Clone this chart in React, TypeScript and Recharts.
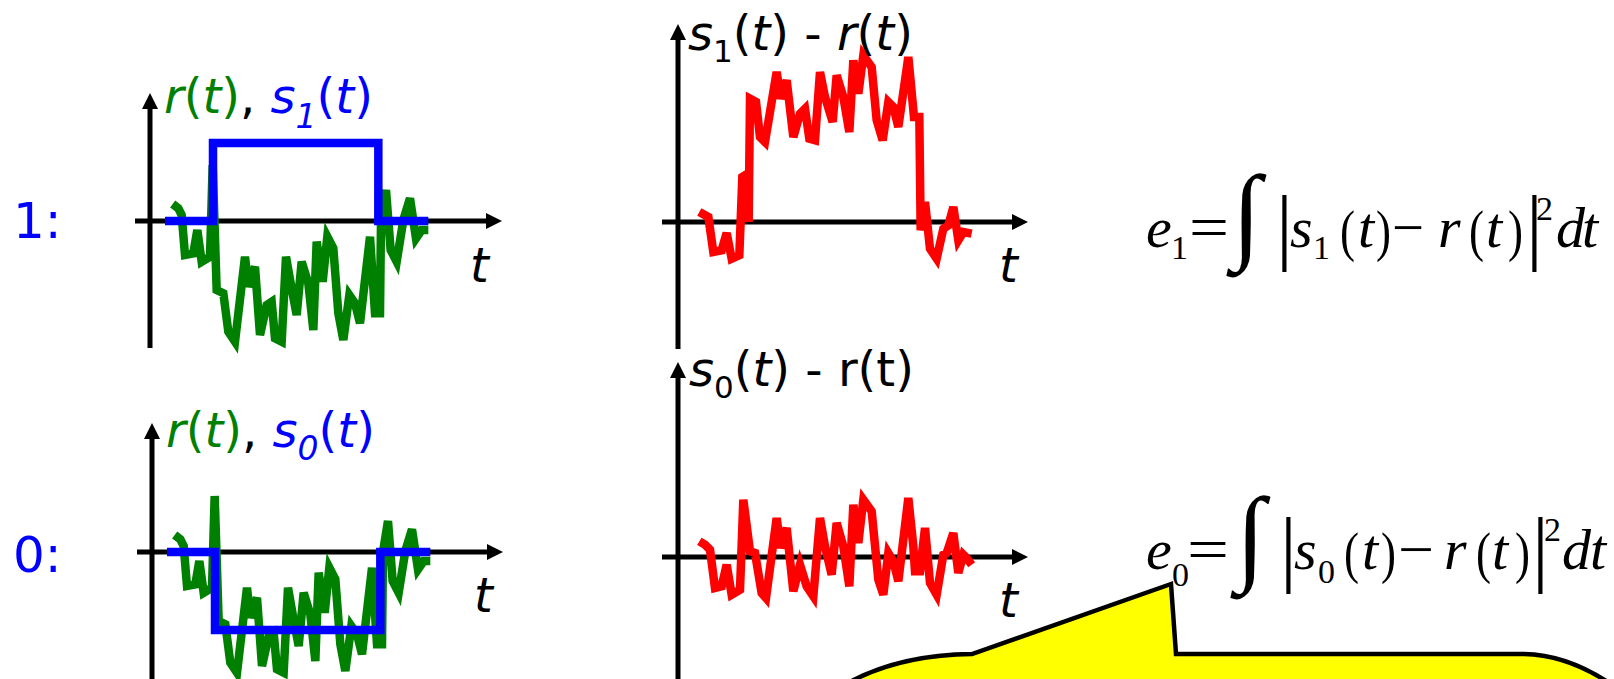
import React from 'react';
import { LineChart, Line, XAxis, YAxis, ReferenceLine } from 'recharts';

// ── Signals (t: sample position, v: height above the t axis) ──
// received signal r(t), same curve in both left panels
const rT = [38, 55, 65, 75, 100, 112, 125, 150, 158, 170, 190, 205, 225, 255, 265, 285, 300, 320, 335, 345, 365, 378, 392, 410, 425, 445, 460, 470, 488, 502, 520, 535, 550, 568, 585, 600, 630, 645, 660, 663, 678, 692, 710, 730, 750, 768, 785, 805];
const rV = [17, 12.7, 6, -34, -32.3, -9, -40.7, -35.7, 56, -69, -72.3, -110.7, -120.7, -35.7, -65.7, -45.7, -114, -84, -80.7, -117.3, -120.7, -35.7, -62.3, -94, -40.7, -62.3, -109, -20.7, -60.7, -15.7, -27.3, -92.3, -119, -74, -82.3, -102.3, -15.7, -92.3, -92.3, 0, 31, -29, -40.7, 1, 22.7, -17.3, -9, -9];

// templates s1(t) and s0(t)
const sT = [15, 159, 159, 655, 655, 805];
const s1V = [0, 0, 78, 78, 0, 0];
const s0V = [0, 0, -78, -78, 0, 0];

// s1(t) - r(t)
const d1T = [28, 55, 70, 95, 110, 125, 148, 157, 165, 176, 180, 198, 210, 225, 260, 272, 290, 310, 330, 345, 358, 375, 390, 405, 428, 440, 460, 478, 490, 505, 520, 545, 560, 578, 595, 610, 625, 655, 672, 688, 692, 705, 720, 740, 760, 775, 790, 805, 820, 845];
const d1V = [10, 5, -30, -28.3, -11, -36.7, -33.3, 45, 46.7, 0, 123.3, 120, 85, 80, 150, 123.3, 141.7, 85, 108.3, 113.3, 83.3, 81.7, 150, 125, 100, 146.7, 125, 90, 161.7, 128.3, 166.7, 155, 101.7, 81.7, 120, 115, 95, 165, 105, 105, -8.3, 20, -26.7, -36.7, -6.7, -3.3, 15, -18.3, -10, -11.7];

// s0(t) - r(t)
const d0T = [28, 45, 60, 75, 95, 110, 125, 150, 160, 180, 195, 215, 228, 260, 272, 290, 310, 330, 350, 370, 390, 405, 425, 440, 460, 478, 490, 505, 520, 545, 565, 580, 595, 610, 625, 655, 670, 675, 690, 705, 720, 740, 760, 770, 790, 805, 820, 830, 845];
const d0V = [15.7, 12.3, 7.3, -31, -29.3, -7.7, -37.7, -32.7, 57.3, 5.7, 4, -36, -41, 39, 9, 29, -34.3, -7.7, -29.3, -39.3, 39, 10.7, -17.7, 34, 10.7, -29.3, 52.3, 14, 57.3, 45.7, -22.7, -37.7, 4, -4.3, -24.3, 59, 10.7, -14.3, -14.3, 29, -26, -37.7, 2.3, 4, 24, -16, 2.3, -1, -7.7];

const GREEN = '#008000';
const BLUE = '#0000ff';
const RED = '#ff0000';

const toPts = (ts: number[], vs: number[]) => ts.map((t, i) => ({ t, v: vs[i] }));

// black axis line, with an arrow head at its second end point
function AxisArrow(props: any) {
    const { x1, y1, x2, y2 } = props;
    const len = Math.hypot(x2 - x1, y2 - y1) || 1;
    const ux = (x2 - x1) / len;
    const uy = (y2 - y1) / len;
    const head = 16;
    const bx = x2 - ux * head;
    const by = y2 - uy * head;
    return (
        <g>
            <line x1={x1} y1={y1} x2={bx + ux} y2={by + uy} stroke="#000" strokeWidth={5} />
            <polygon
                points={`${x2},${y2} ${bx - uy * 8},${by + ux * 8} ${bx + uy * 8},${by - ux * 8}`}
                fill="#000"
            />
        </g>
    );
}

interface Series { ts: number[]; vs: number[]; color: string }

interface PanelProps {
    left: number; top: number; width: number; height: number;
    x0: number; y0: number;            // page position of t = 0, v = 0
    xAxis: [number, number];           // t span of horizontal axis
    yAxisT: number;                    // t position of vertical axis
    yAxis: [number, number];           // v span of vertical axis (bottom, top)
    series: Series[];
}

function Panel({ left, top, width, height, x0, y0, xAxis, yAxisT, yAxis, series }: PanelProps) {
    const tDomain: [number, number] = [(left - x0) * 3, (left + width - x0) * 3];
    const vDomain: [number, number] = [y0 - (top + height), y0 - top];
    return (
        <div style={{ position: 'absolute', left, top }}>
            <LineChart width={width} height={height} margin={{ top: 0, right: 0, bottom: 0, left: 0 }}>
                <XAxis type="number" dataKey="t" domain={tDomain} allowDataOverflow hide />
                <YAxis type="number" dataKey="v" domain={vDomain} allowDataOverflow hide />
                <ReferenceLine
                    segment={[{ x: xAxis[0], y: 0 }, { x: xAxis[1], y: 0 }]}
                    ifOverflow="visible"
                    shape={(p: any) => <AxisArrow {...p} />}
                />
                <ReferenceLine
                    segment={[{ x: yAxisT, y: yAxis[0] }, { x: yAxisT, y: yAxis[1] }]}
                    ifOverflow="visible"
                    shape={(p: any) => <AxisArrow {...p} />}
                />
                {series.map((s, i) => (
                    <Line
                        key={i}
                        data={toPts(s.ts, s.vs)}
                        dataKey="v"
                        type="linear"
                        stroke={s.color}
                        strokeWidth={8.5}
                        dot={false}
                        activeDot={false}
                        isAnimationActive={false}
                    />
                ))}
            </LineChart>
        </div>
    );
}

// ── Text helpers ──────────────────────────────────────────────────────────────
const SANS = '"DejaVu Sans", sans-serif';
const SERIF = '"Liberation Serif", "Times New Roman", serif';

interface Glyph { ch: string; x: number; y: number; size: number; italic?: boolean; w?: number }

function Equation({ glyphs }: { glyphs: Glyph[] }) {
    return (
        <g fontFamily={SERIF} fill="#000">
            {glyphs.map((g, i) => (
                <text
                    key={i}
                    x={g.x}
                    y={g.y}
                    fontSize={g.size}
                    fontStyle={g.italic ? 'italic' : 'normal'}
                    textLength={g.w}
                    lengthAdjust={g.w ? 'spacingAndGlyphs' : undefined}
                >
                    {g.ch}
                </text>
            ))}
        </g>
    );
}

// e1 = ∫ |s1(t) − r(t)|² dt
const eq1: Glyph[] = [
    { ch: 'e', x: 1146, y: 247, size: 58, italic: true },
    { ch: '1', x: 1171, y: 259, size: 34 },
    { ch: '=', x: 1189, y: 247, size: 60, w: 40 },
    { ch: '∫', x: 1232, y: 249, size: 106 },
    { ch: '|', x: 1276, y: 254, size: 84 },
    { ch: 's', x: 1290, y: 247, size: 58, italic: true },
    { ch: '1', x: 1313, y: 259, size: 34 },
    { ch: '(', x: 1340, y: 250, size: 58, w: 15 },
    { ch: 't', x: 1358, y: 247, size: 58, italic: true },
    { ch: ')', x: 1376, y: 250, size: 58, w: 15 },
    { ch: '−', x: 1392, y: 247, size: 58, w: 32 },
    { ch: 'r', x: 1438, y: 247, size: 58, italic: true },
    { ch: '(', x: 1469, y: 250, size: 58, w: 15 },
    { ch: 't', x: 1486, y: 247, size: 58, italic: true },
    { ch: ')', x: 1508, y: 250, size: 58, w: 15 },
    { ch: '|', x: 1526, y: 254, size: 84 },
    { ch: '2', x: 1536, y: 220, size: 34 },
    { ch: 'd', x: 1556, y: 247, size: 58, italic: true },
    { ch: 't', x: 1582, y: 247, size: 58, italic: true },
];

// e0 = ∫ |s0(t) − r(t)|² dt
const eq0: Glyph[] = [
    { ch: 'e', x: 1146, y: 569, size: 58, italic: true },
    { ch: '0', x: 1172, y: 586, size: 34 },
    { ch: '=', x: 1187, y: 569, size: 60, w: 42 },
    { ch: '∫', x: 1236, y: 571, size: 106 },
    { ch: '|', x: 1280, y: 576, size: 84 },
    { ch: 's', x: 1294, y: 569, size: 58, italic: true },
    { ch: '0', x: 1318, y: 583, size: 34 },
    { ch: '(', x: 1344, y: 572, size: 58, w: 15 },
    { ch: 't', x: 1362, y: 569, size: 58, italic: true },
    { ch: ')', x: 1381, y: 572, size: 58, w: 15 },
    { ch: '−', x: 1398, y: 569, size: 58, w: 36 },
    { ch: 'r', x: 1444, y: 569, size: 58, italic: true },
    { ch: '(', x: 1476, y: 572, size: 58, w: 15 },
    { ch: 't', x: 1492, y: 569, size: 58, italic: true },
    { ch: ')', x: 1515, y: 572, size: 58, w: 15 },
    { ch: '|', x: 1532, y: 576, size: 84 },
    { ch: '2', x: 1544, y: 541, size: 34 },
    { ch: 'd', x: 1562, y: 569, size: 58, italic: true },
    { ch: 't', x: 1590, y: 569, size: 58, italic: true },
];

export default function App() {
    return (
        <div style={{ position: 'absolute', left: 0, top: 0, width: 1614, height: 679, overflow: 'hidden', background: '#fff' }}>
            {/* bit 1 : r(t) against s1(t) */}
            <Panel
                left={125} top={85} width={395} height={270}
                x0={160} y0={221}
                xAxis={[-75, 1026]} yAxisT={-30} yAxis={[-127, 128]}
                series={[{ ts: rT, vs: rV, color: GREEN }, { ts: sT, vs: s1V, color: BLUE }]}
            />
            {/* bit 0 : r(t) against s0(t) */}
            <Panel
                left={127} top={415} width={395} height={264}
                x0={162} y0={552}
                xAxis={[-75, 1023]} yAxisT={-30} yAxis={[-130, 129]}
                series={[{ ts: rT, vs: rV, color: GREEN }, { ts: sT, vs: s0V, color: BLUE }]}
            />
            {/* s1(t) - r(t) */}
            <Panel
                left={655} top={15} width={385} height={340}
                x0={690} y0={222}
                xAxis={[-84, 1014]} yAxisT={-36} yAxis={[-127, 198]}
                series={[{ ts: d1T, vs: d1V, color: RED }]}
            />
            {/* s0(t) - r(t) */}
            <Panel
                left={655} top={355} width={385} height={324}
                x0={690} y0={557}
                xAxis={[-84, 1014]} yAxisT={-36} yAxis={[-125, 195]}
                series={[{ ts: d0T, vs: d0V, color: RED }]}
            />

            <svg width={1614} height={679} style={{ position: 'absolute', left: 0, top: 0, pointerEvents: 'none' }}>
                {/* speech bubble */}
                <path
                    d="M 822 700 Q 880 655 972 654 L 1171 584 L 1176 654 L 1524 654 Q 1578 655 1632 700 Z"
                    fill="#ffff00" stroke="#000" strokeWidth={4.5} strokeLinejoin="miter"
                />

                <g fontFamily={SANS} fontSize={48}>
                    <text x={13} y={238} fontSize={50} fill={BLUE}>1:</text>
                    <text x={13} y={572} fontSize={50} fill={BLUE}>0:</text>

                    <text x={164} y={113}>
                        <tspan fill={GREEN} fontStyle="italic">r</tspan>
                        <tspan fill={GREEN}>(</tspan>
                        <tspan fill={GREEN} fontStyle="italic">t</tspan>
                        <tspan fill={GREEN}>)</tspan>
                        <tspan fill="#000">, </tspan>
                        <tspan fill={BLUE} fontStyle="italic">s</tspan>
                        <tspan fill={BLUE} fontStyle="italic" fontSize={33} dy={15}>1</tspan>
                        <tspan fill={BLUE} dy={-15}>(</tspan>
                        <tspan fill={BLUE} fontStyle="italic">t</tspan>
                        <tspan fill={BLUE}>)</tspan>
                    </text>
                    <text x={166} y={447}>
                        <tspan fill={GREEN} fontStyle="italic">r</tspan>
                        <tspan fill={GREEN}>(</tspan>
                        <tspan fill={GREEN} fontStyle="italic">t</tspan>
                        <tspan fill={GREEN}>)</tspan>
                        <tspan fill="#000">, </tspan>
                        <tspan fill={BLUE} fontStyle="italic">s</tspan>
                        <tspan fill={BLUE} fontStyle="italic" fontSize={33} dy={13}>0</tspan>
                        <tspan fill={BLUE} dy={-13}>(</tspan>
                        <tspan fill={BLUE} fontStyle="italic">t</tspan>
                        <tspan fill={BLUE}>)</tspan>
                    </text>

                    <text x={688} y={50} fill="#000">
                        <tspan fontStyle="italic">s</tspan>
                        <tspan fontSize={31} dy={12}>1</tspan>
                        <tspan dy={-12}>(</tspan>
                        <tspan fontStyle="italic">t</tspan>
                        <tspan>) - </tspan>
                        <tspan fontStyle="italic">r</tspan>
                        <tspan>(</tspan>
                        <tspan fontStyle="italic">t</tspan>
                        <tspan>)</tspan>
                    </text>
                    <text x={689} y={386} fill="#000">
                        <tspan fontStyle="italic">s</tspan>
                        <tspan fontSize={31} dy={12}>0</tspan>
                        <tspan dy={-12}>(</tspan>
                        <tspan fontStyle="italic">t</tspan>
                        <tspan>) - r(t)</tspan>
                    </text>

                    <text x={470} y={282} fontStyle="italic">t</text>
                    <text x={474} y={612} fontStyle="italic">t</text>
                    <text x={999} y={282} fontStyle="italic">t</text>
                    <text x={999} y={617} fontStyle="italic">t</text>
                </g>

                <Equation glyphs={eq1} />
                <Equation glyphs={eq0} />
            </svg>
        </div>
    );
}
